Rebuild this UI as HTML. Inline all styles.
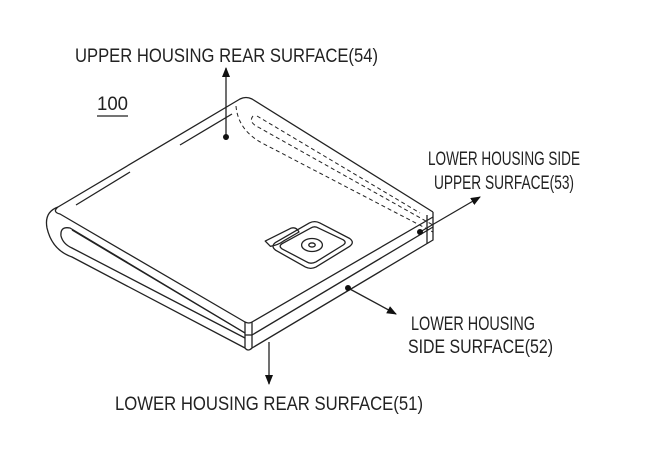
<!DOCTYPE html>
<html><head><style>html,body{margin:0;padding:0;background:#fff;}svg{display:block}</style></head>
<body>
<svg width="650" height="474" viewBox="0 0 650 474" xmlns="http://www.w3.org/2000/svg">
<defs><marker id="ah" markerWidth="10" markerHeight="8" refX="9" refY="4" orient="auto" markerUnits="userSpaceOnUse"><path d="M0,0 L10,4 L0,8 Z" fill="#111"/></marker></defs>
<g fill="none" stroke="#222" stroke-width="1.3" stroke-linejoin="round">
<path d="M58,207 L240,99 Q246,96 252,99 L433,212"/>
<path d="M58,207 Q52,212 60,214 L245,322 Q249,324 252,322 L433,217"/>
<path d="M433,212 L433,240 L252,348"/>
<path d="M433,227 L252,335"/>
<path d="M427,215 L427,244"/>
<path d="M245,322 L245,348 Q248,352 252,348 L252,322"/>
<path d="M245,335 L252,335"/>
<path d="M58,207 Q44,212 47,228 Q52,250 72,257 L245,348"/>
<path d="M245,333 L70,228 Q60,226 61,236 Q63,244 72,248 L245,338"/>
<path d="M72,230 L245,333"/>
<path d="M76,205 L130,172"/>
<path d="M180,145 L232,114"/>
<g stroke-dasharray="4,3" stroke-width="1">
<path d="M236,106 Q238,130 262,143 L433,232"/>
<path d="M253,116 Q248,122 258,127 L433,225"/>
<path d="M257,116 L420,213"/>
</g>
<g transform="translate(312,245) scale(1.3) translate(-312,-245)">
<path d="M276,242 L296,232 Q300,231 302,235 L290,242 Q286,245 280,246 Z" stroke-width="1"/>
<path d="M310,228 Q314,226 318,228 L341,240 Q345,243 341,246 L315,262 Q311,264 307,262 L284,249 Q280,246 284,243 Z" stroke-width="1"/>
<path d="M311,232 Q314,230 317,232 L336,241 Q339,243 336,245 L315,258 Q311,260 308,258 L289,248 Q286,246 289,244 Z" stroke-width="1"/>
<ellipse cx="312" cy="245" rx="8" ry="5" stroke-width="1"/>
<ellipse cx="312" cy="245" rx="2.5" ry="1.6" stroke-width="1"/>
</g>
<path d="M226,140 L226,68" marker-end="url(#ah)"/>
<path d="M420,232 L480,197" marker-end="url(#ah)"/>
<path d="M348,288 L396,314" marker-end="url(#ah)"/>
<path d="M269,342 L269,384" marker-end="url(#ah)"/>
<path d="M97,116 L128,116"/>
</g>
<g fill="#111"><circle cx="226" cy="137" r="3"/><circle cx="420" cy="232" r="3"/><circle cx="348" cy="288" r="3"/></g>
<g font-family="Liberation Sans, sans-serif" font-size="19" fill="#222">
<text x="75" y="62" textLength="303" lengthAdjust="spacingAndGlyphs">UPPER HOUSING REAR SURFACE(54)</text>
<text x="97" y="110" textLength="31" lengthAdjust="spacingAndGlyphs">100</text>
<text x="428" y="165" textLength="152" lengthAdjust="spacingAndGlyphs">LOWER HOUSING SIDE</text>
<text x="434" y="189" textLength="140" lengthAdjust="spacingAndGlyphs">UPPER SURFACE(53)</text>
<text x="411" y="330" textLength="124" lengthAdjust="spacingAndGlyphs">LOWER HOUSING</text>
<text x="408" y="353" textLength="145" lengthAdjust="spacingAndGlyphs">SIDE SURFACE(52)</text>
<text x="115" y="410" textLength="308" lengthAdjust="spacingAndGlyphs">LOWER HOUSING REAR SURFACE(51)</text>
</g>
</svg>
</body></html>
